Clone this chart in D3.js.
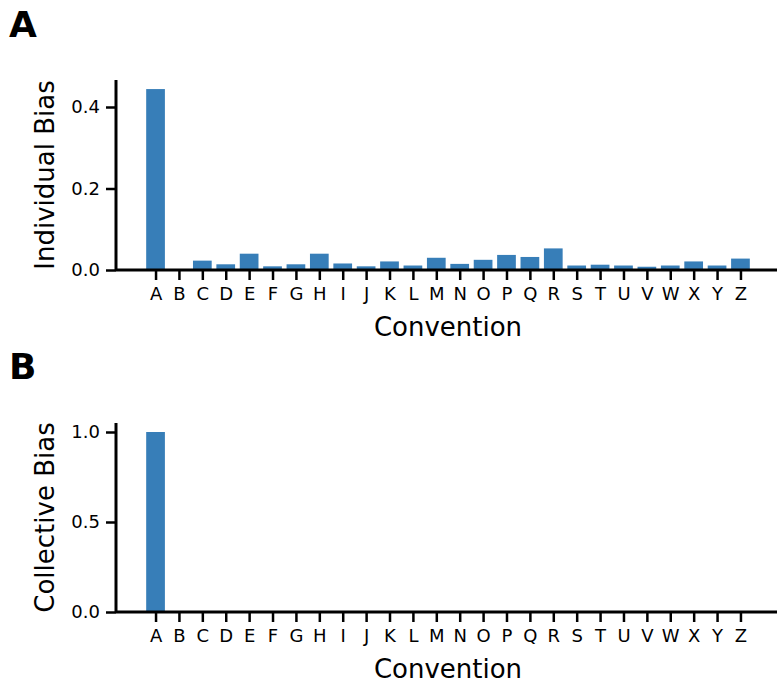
<!DOCTYPE html>
<html>
<head>
<meta charset="utf-8">
<script src="https://cdn.jsdelivr.net/npm/d3@7"></script>
<style>
  body { margin: 0; background: #fff; }
  svg { display: block; font-family: "DejaVu Sans", sans-serif; }
</style>
</head>
<body>
<svg id="chart" width="777" height="684"></svg>
<script>
const conventions = "ABCDEFGHIJKLMNOPQRSTUVWXYZ".split("");
const individualBias = [0.444, 0.0, 0.023, 0.014, 0.040, 0.009, 0.014, 0.040, 0.016, 0.009, 0.021, 0.011, 0.030,
                        0.015, 0.025, 0.037, 0.032, 0.053, 0.011, 0.013, 0.011, 0.008, 0.011, 0.021, 0.011, 0.028];
const collectiveBias = [1.0, 0, 0, 0, 0, 0, 0, 0, 0, 0, 0, 0, 0, 0, 0, 0, 0, 0, 0, 0, 0, 0, 0, 0, 0, 0];
const individualTicks = [0.0, 0.2, 0.4];
const collectiveTicks = [0.0, 0.5, 1.0];

const svg = d3.select("#chart");
const color = "#377eb8";
const left = 116, right = 780;

// linear x scale in matplotlib-style data units (bar index), with 5% margins
const xLin = d3.scaleLinear().domain([-1.69, 26.69]).range([left, right]);
const barW = 0.8;

function panel(cfg) {
  const g = svg.append("g");
  const ymax = d3.max(cfg.values) * 1.05;
  const y = d3.scaleLinear().domain([0, ymax]).range([cfg.bottom, cfg.top]);

  g.selectAll("rect.bar").data(cfg.values).join("rect")
    .attr("class", "bar")
    .attr("x", (d, i) => xLin(i - barW / 2))
    .attr("width", xLin(barW) - xLin(0))
    .attr("y", d => y(d))
    .attr("height", d => y(0) - y(d))
    .attr("fill", color);

  // y axis
  const yAxis = d3.axisLeft(y).tickValues(cfg.ticks).tickFormat(d3.format(".1f"))
    .tickSize(10).tickPadding(6);
  const ya = g.append("g").attr("transform", `translate(${left},0)`).call(yAxis);
  ya.select(".domain").attr("stroke-width", 3).attr("d", `M0,${cfg.top}V${cfg.bottom}`);
  ya.selectAll(".tick line").attr("stroke-width", 2.5);
  ya.selectAll(".tick text").attr("font-size", 18).attr("fill", "#000")
    .attr("font-family", "DejaVu Sans");

  // x axis
  const xAxis = d3.axisBottom(xLin).tickValues(d3.range(conventions.length))
    .tickFormat(i => conventions[i]).tickSize(10).tickPadding(7);
  const xa = g.append("g").attr("transform", `translate(0,${cfg.bottom})`).call(xAxis);
  xa.select(".domain").attr("stroke-width", 3).attr("d", `M${left},0H${right}`);
  xa.selectAll(".tick line").attr("stroke-width", 2.5);
  xa.selectAll(".tick text").attr("font-size", 18).attr("fill", "#000")
    .attr("font-family", "DejaVu Sans");

  g.append("text")
    .attr("x", (left + right) / 2).attr("y", cfg.bottom + 66)
    .attr("text-anchor", "middle").attr("font-size", 26)
    .text("Convention");

  g.append("text")
    .attr("transform", `translate(54,${(cfg.top + cfg.bottom) / 2}) rotate(-90)`)
    .attr("text-anchor", "middle").attr("font-size", 26)
    .text(cfg.ylabel);

  g.append("text")
    .attr("x", 9).attr("y", cfg.labelY)
    .attr("font-size", 36).attr("font-weight", "bold")
    .text(cfg.label);
}

panel({ values: individualBias, ticks: individualTicks, top: 270 - 0.4662 * 407.5, bottom: 270,
        ylabel: "Individual Bias", label: "A", labelY: 37 });
panel({ values: collectiveBias, ticks: collectiveTicks, top: 612 - 1.05 * 180, bottom: 612,
        ylabel: "Collective Bias", label: "B", labelY: 379 });
</script>
</body>
</html>
